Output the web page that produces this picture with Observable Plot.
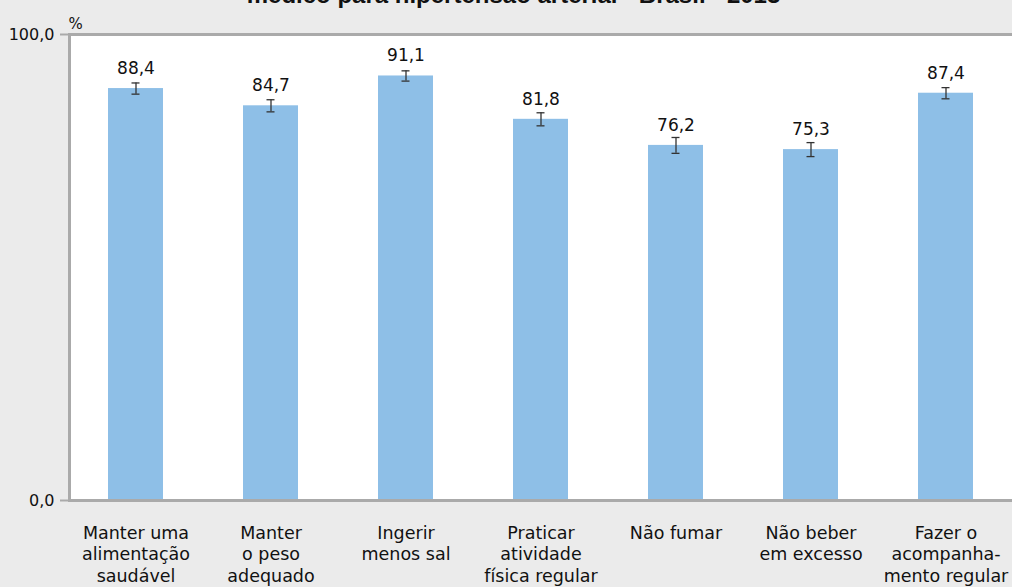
<!DOCTYPE html>
<html>
<head>
<meta charset="utf-8">
<script src="https://cdn.jsdelivr.net/npm/d3@7"></script>
<script src="https://cdn.jsdelivr.net/npm/@observablehq/plot@0.6"></script>
<style>
  html, body { margin: 0; padding: 0; background: #ebebeb; overflow: hidden; }
  #wrap { position: relative; width: 1012px; height: 587px; }
  #title { position: absolute; top: -17px; left: 0; width: 1027px; text-align: center;
           font: bold 24px "Liberation Sans", Arial, sans-serif; line-height: 24px; color: #111; white-space: nowrap; }
  svg { display: block; }
</style>
</head>
<body>
<div id="wrap">
  <div id="chart"></div>
  <div id="title">médico para hipertensão arterial - Brasil - 2013</div>
</div>
<script>
const categories = [
  "Manter uma\nalimentação\nsaudável",
  "Manter\no peso\nadequado",
  "Ingerir\nmenos sal",
  "Praticar\natividade\nfísica regular",
  "Não fumar",
  "Não beber\nem excesso",
  "Fazer o\nacompanha-\nmento regular"
];
const values = [88.4, 84.7, 91.1, 81.8, 76.2, 75.3, 87.4];
const lower  = [87.2, 83.4, 90.0, 80.4, 74.5, 73.8, 86.2];
const upper  = [89.6, 86.0, 92.2, 83.2, 77.9, 76.8, 88.6];
const yTicks = [0, 100];

const fmt = v => v.toFixed(1).replace(".", ",");
const data = categories.map((c, i) => ({c, v: values[i], lo: lower[i], hi: upper[i]}));

const chart = Plot.plot({
  width: 1012,
  height: 587,
  marginLeft: 69,
  marginRight: 0,
  marginTop: 34,
  marginBottom: 87,
  style: {background: "#ebebeb", fontFamily: "DejaVu Sans", fontSize: "17px", color: "#111"},
  x: {domain: categories, range: [66, 1014], paddingInner: 0.594, paddingOuter: 0.297, label: null},
  y: {domain: [0, 100], label: null},
  marks: [
    Plot.frame({fill: "white", stroke: null}),
    Plot.barY(data, {x: "c", y: "v", fill: "#8ebfe7"}),
    Plot.ruleX(data, {x: "c", y1: "lo", y2: "hi", stroke: "#333", strokeWidth: 1.3}),
    Plot.tickY(data, {x: "c", y: "lo", stroke: "#333", strokeWidth: 1.3, insetLeft: 23.5, insetRight: 23.5}),
    Plot.tickY(data, {x: "c", y: "hi", stroke: "#333", strokeWidth: 1.3, insetLeft: 23.5, insetRight: 23.5}),
    Plot.text(data, {x: "c", y: "v", text: d => fmt(d.v), dy: -20, fontSize: 17, fill: "#111"}),
    Plot.axisX({tickSize: 0, tickPadding: 23, lineHeight: 1.23, fontSize: 17.5, fill: "#111"}),
    Plot.axisY({ticks: yTicks, tickFormat: fmt, tickSize: 9, tickPadding: 6, stroke: "#aaa", strokeWidth: 2, fill: "#111", fontSize: 16}),
    Plot.frame({anchor: "top", stroke: "#aaa", strokeWidth: 3}),
    Plot.frame({anchor: "left", stroke: "#aaa", strokeWidth: 3}),
    Plot.frame({anchor: "bottom", stroke: "#aaa", strokeWidth: 3}),
    Plot.text(["%"], {frameAnchor: "top-left", text: d => d, dx: 6, dy: -16, textAnchor: "middle", fontSize: 15, fill: "#111"})
  ]
});
document.getElementById("chart").appendChild(chart);
</script>
</body>
</html>
